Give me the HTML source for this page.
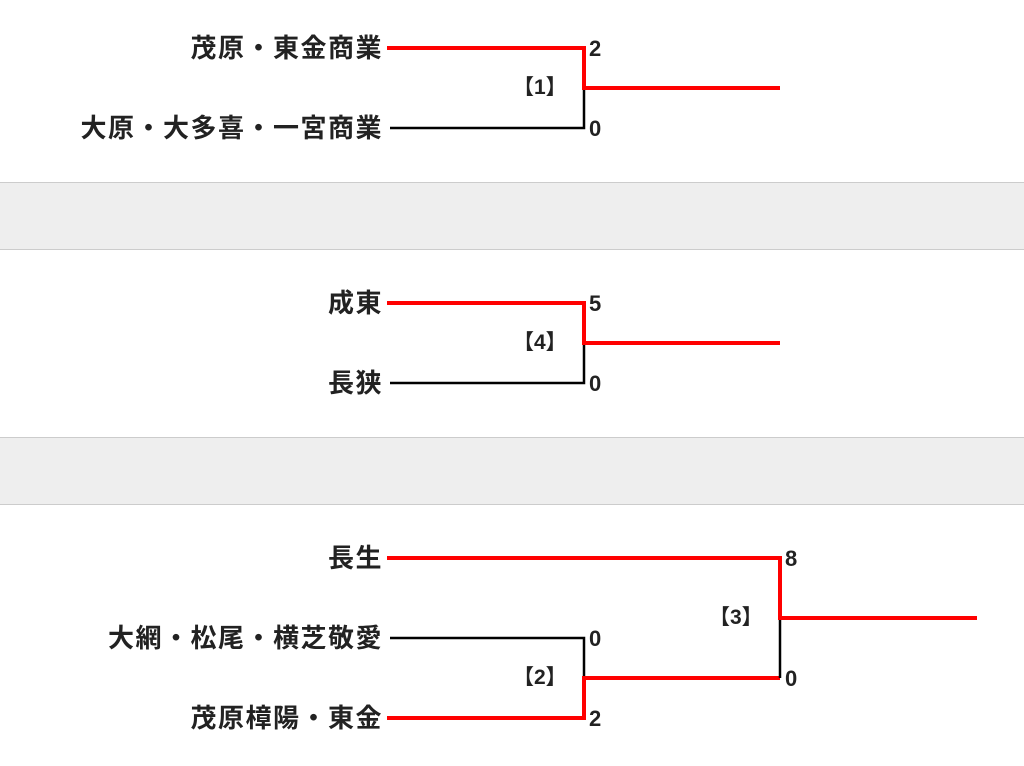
<!DOCTYPE html>
<html><head><meta charset="utf-8"><style>
html,body{margin:0;padding:0;background:#fff;width:1024px;height:766px;overflow:hidden;position:relative;font-family:"Liberation Sans","Noto Sans CJK JP",sans-serif;}
.band{position:absolute;left:0;width:1024px;background:#eee;border-top:1px solid #ccc;border-bottom:1px solid #ccc;}
.n{position:absolute;right:641px;font-size:26px;letter-spacing:1.5px;font-weight:bold;color:#222;line-height:30px;white-space:nowrap;}
.s{position:absolute;font-size:22px;font-weight:bold;color:#222;line-height:26px;}
.l{position:absolute;font-size:21px;font-weight:bold;color:#222;line-height:26px;}
svg{position:absolute;left:0;top:0;}
</style></head><body>
<div class="band" style="top:182px;height:66px"></div>
<div class="band" style="top:437px;height:66px"></div>
<svg width="1024" height="766">
<g fill="none" stroke-linecap="butt">
<path d="M390 128H584V88" stroke="#000" stroke-width="2.5"/>
<path d="M387 48H584V88H780" stroke="#f00" stroke-width="4"/>
<path d="M390 383H584V343" stroke="#000" stroke-width="2.5"/>
<path d="M387 303H584V343H780" stroke="#f00" stroke-width="4"/>
<path d="M390 638H584V678" stroke="#000" stroke-width="2.5"/>
<path d="M387 718H584V678H780" stroke="#f00" stroke-width="4"/>
<path d="M780 618V678" stroke="#000" stroke-width="2.5"/>
<path d="M387 558H780V618H977" stroke="#f00" stroke-width="4"/>
</g></svg>
<div class="n" style="top:33px">茂原・東金商業</div>
<div class="n" style="top:113px">大原・大多喜・一宮商業</div>
<div class="n" style="top:288px">成東</div>
<div class="n" style="top:368px">長狭</div>
<div class="n" style="top:543px">長生</div>
<div class="n" style="top:623px">大網・松尾・横芝敬愛</div>
<div class="n" style="top:703px">茂原樟陽・東金</div>
<div class="s" style="left:589px;top:36px">2</div>
<div class="s" style="left:589px;top:116px">0</div>
<div class="s" style="left:589px;top:291px">5</div>
<div class="s" style="left:589px;top:371px">0</div>
<div class="s" style="left:785px;top:546px">8</div>
<div class="s" style="left:785px;top:666px">0</div>
<div class="s" style="left:589px;top:626px">0</div>
<div class="s" style="left:589px;top:706px">2</div>
<div class="l" style="left:513px;top:75px">【1】</div>
<div class="l" style="left:513px;top:330px">【4】</div>
<div class="l" style="left:513px;top:665px">【2】</div>
<div class="l" style="left:709px;top:605px">【3】</div>
</body></html>
